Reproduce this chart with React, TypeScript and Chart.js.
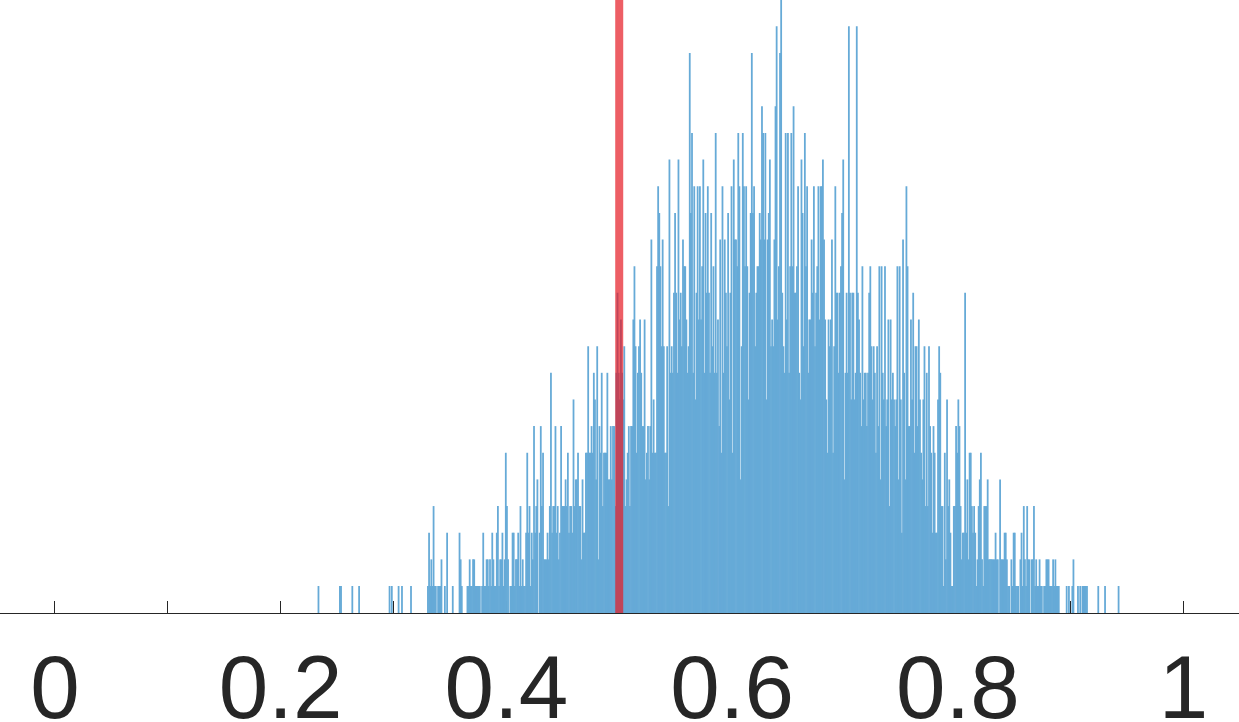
import React, { useEffect, useRef } from "react";
import { Chart, registerables } from "chart.js";

Chart.register(...registerables);

// Histogram: bin width 0.001, first bin starts at 0.230
const BIN_WIDTH = 0.001;
const FIRST_BIN = 230;

// bins 230-309
const countsA = [
  0, 0, 0, 1, 0, 0, 0, 0, 0, 0,
  0, 0, 0, 0, 0, 0, 0, 0, 0, 0,
  0, 0, 1, 1, 0, 0, 0, 0, 0, 0,
  0, 0, 0, 1, 0, 0, 0, 0, 0, 1,
  0, 0, 0, 0, 0, 0, 0, 0, 0, 0,
  0, 0, 0, 0, 0, 0, 0, 0, 0, 0,
  0, 0, 0, 0, 0, 0, 1, 0, 1, 0,
  0, 0, 0, 0, 1, 0, 0, 1, 0, 0,
];
// bins 310-389
const countsB = [
  0, 0, 0, 0, 0, 1, 0, 0, 0, 0,
  0, 0, 0, 0, 0, 0, 0, 0, 0, 0,
  1, 3, 1, 2, 1, 4, 1, 1, 0, 1,
  1, 1, 2, 0, 0, 1, 0, 3, 0, 0,
  0, 0, 1, 0, 0, 0, 0, 0, 3, 2,
  1, 0, 0, 0, 0, 1, 1, 2, 1, 1,
  2, 2, 1, 1, 1, 1, 1, 0, 1, 3,
  1, 1, 2, 2, 1, 2, 1, 3, 2, 1,
];
// bins 390-469
const countsC = [
  1, 3, 4, 1, 2, 2, 3, 1, 2, 6,
  4, 2, 0, 1, 1, 3, 3, 1, 2, 2,
  3, 1, 4, 1, 2, 1, 1, 3, 6, 3,
  4, 1, 3, 2, 7, 3, 4, 5, 0, 3,
  7, 4, 6, 2, 2, 2, 3, 2, 4, 9,
  3, 4, 4, 7, 3, 4, 2, 3, 7, 4,
  4, 4, 5, 4, 6, 3, 4, 4, 3, 8,
  4, 5, 5, 6, 4, 4, 2, 5, 3, 3,
];
// bins 470-548
const countsD = [
  6, 6, 10, 6, 6, 7, 6, 9, 8, 5,
  10, 2, 7, 6, 9, 4, 6, 6, 6, 9,
  5, 5, 7, 5, 7, 7, 4, 9, 12, 9,
  8, 11, 9, 8, 10, 4, 5, 6, 7, 4,
  7, 7, 11, 13, 10, 6, 9, 10, 11, 9,
  7, 7, 11, 5, 6, 7, 5, 7, 14, 6,
  8, 6, 6, 13, 16, 15, 13, 10, 14, 10,
  6, 6, 10, 4, 17, 9, 10, 9, 12,
];
// bins 549-628
const countsE = [
  15, 12, 9, 17, 11, 12, 10, 14, 13, 13,
  11, 9, 10, 21, 15, 18, 9, 16, 8, 12,
  16, 11, 16, 11, 13, 17, 9, 15, 12, 16,
  12, 9, 15, 10, 13, 9, 18, 9, 11, 7,
  14, 6, 16, 9, 14, 12, 10, 15, 8, 12,
  16, 6, 17, 14, 14, 13, 18, 16, 5, 10,
  18, 16, 13, 16, 13, 8, 12, 15, 21, 15,
  16, 10, 12, 13, 13, 15, 14, 19, 18, 14,
];
// bins 629-708
const countsF = [
  18, 8, 14, 15, 17, 10, 11, 10, 14, 19,
  22, 11, 13, 21, 23, 12, 10, 9, 18, 11,
  18, 9, 13, 18, 13, 19, 12, 12, 13, 16,
  9, 8, 17, 15, 10, 18, 13, 16, 9, 11,
  11, 14, 12, 16, 10, 12, 13, 16, 11, 16,
  16, 17, 14, 11, 8, 6, 11, 10, 11, 14,
  6, 10, 16, 12, 12, 9, 12, 13, 15, 17,
  5, 9, 12, 9, 22, 12, 8, 12, 12, 8,
];
// bins 709-788
const countsG = [
  9, 22, 12, 11, 9, 7, 13, 8, 9, 9,
  7, 9, 12, 13, 10, 8, 10, 9, 6, 10,
  7, 13, 5, 13, 9, 8, 13, 7, 8, 11,
  4, 11, 8, 9, 8, 7, 8, 13, 5, 13,
  8, 3, 14, 9, 5, 16, 13, 7, 7, 11,
  8, 12, 6, 10, 10, 7, 11, 8, 6, 5,
  8, 10, 4, 9, 4, 10, 7, 6, 3, 7,
  6, 3, 3, 8, 10, 9, 4, 4, 1, 6,
];
// bins 789-867
const countsH = [
  2, 8, 4, 5, 3, 1, 1, 4, 4, 7,
  6, 8, 7, 4, 2, 3, 3, 12, 3, 5,
  2, 6, 6, 4, 3, 4, 3, 1, 2, 4,
  5, 6, 2, 1, 4, 4, 4, 5, 2, 2,
  2, 2, 2, 2, 3, 2, 2, 0, 5, 2,
  2, 2, 3, 3, 2, 1, 1, 0, 2, 1,
  3, 3, 1, 1, 1, 0, 2, 3, 1, 4,
  2, 1, 4, 2, 2, 0, 2, 2, 4,
];
// bins 868-947
const countsI = [
  1, 2, 1, 1, 2, 1, 1, 0, 1, 1,
  2, 2, 2, 1, 1, 1, 2, 1, 2, 1,
  1, 1, 0, 0, 0, 0, 0, 0, 1, 0,
  1, 0, 0, 1, 2, 0, 0, 0, 1, 0,
  1, 0, 1, 1, 1, 1, 1, 0, 0, 0,
  0, 0, 0, 0, 0, 0, 1, 0, 0, 0,
  0, 0, 1, 0, 0, 0, 0, 0, 0, 0,
  0, 0, 0, 0, 1, 0, 0, 0, 0, 0,
];

const thresholdValue = 0.5;
const xMin = -0.0487;
const xMax = 1.0492;
const yMax = 23;
const tickLabels = ["0", "0.2", "0.4", "0.6", "0.8", "1"];

export default function App() {
  const canvasRef = useRef<HTMLCanvasElement | null>(null);

  useEffect(() => {
    const counts = [
      ...countsA, ...countsB, ...countsC, ...countsD, ...countsE,
      ...countsF, ...countsG, ...countsH, ...countsI,
    ];
    // empty bins are left undrawn (null) so no hairline appears on the axis
    const barData = counts.map((c, i) => ({
      x: (FIRST_BIN + i + 0.5) * BIN_WIDTH,
      y: c === 0 ? null : c,
    }));

    const chart = new Chart(canvasRef.current as HTMLCanvasElement, {
      type: "bar",
      data: {
        datasets: [
          {
            type: "line",
            data: [
              { x: thresholdValue, y: 0 },
              { x: thresholdValue, y: yMax },
            ],
            borderColor: "rgba(230,25,35,0.7)",
            borderWidth: 8,
            pointRadius: 0,
            order: 0,
          } as any,
          {
            type: "bar",
            data: barData,
            backgroundColor: "rgb(102,170,215)",
            borderWidth: 0,
            barPercentage: 1,
            categoryPercentage: 1,
            order: 1,
          } as any,
        ],
      },
      options: {
        responsive: false,
        animation: false,
        devicePixelRatio: 1,
        layout: { padding: 0, autoPadding: false },
        plugins: {
          legend: { display: false },
          tooltip: { enabled: false },
        },
        scales: {
          x: {
            type: "linear",
            min: xMin,
            max: xMax,
            offset: false,
            z: 1,
            grid: {
              display: true,
              offset: false,
              drawOnChartArea: false,
              drawTicks: true,
              tickLength: -12,
              color: "#262626",
              lineWidth: 1,
            },
            border: { display: true, color: "#262626", width: 1 },
            ticks: {
              stepSize: 0.1,
              includeBounds: false,
              autoSkip: false,
              maxRotation: 0,
              padding: 25.7,
              color: "#262626",
              font: {
                family: '"Liberation Sans", Arial, Helvetica, sans-serif',
                size: 89,
                lineHeight: 1.5,
              },
              callback: (value: any) => {
                const k = Math.round(Number(value) * 10);
                if (k % 2 !== 0) return "";
                return tickLabels[k / 2] ?? "";
              },
            },
            afterFit: (scale: any) => {
              scale.height = 109;
            },
          } as any,
          y: {
            display: false,
            min: 0,
            max: yMax,
          },
        },
      },
    });
    return () => chart.destroy();
  }, []);

  return (
    <div style={{ position: "fixed", left: 0, top: 0, width: 1239, height: 722, background: "#fff" }}>
      <canvas ref={canvasRef} width={1239} height={722} style={{ display: "block" }} />
    </div>
  );
}
